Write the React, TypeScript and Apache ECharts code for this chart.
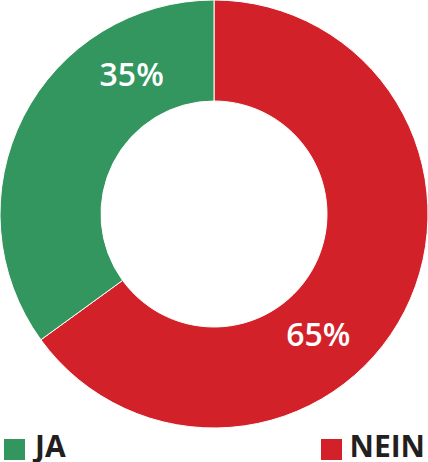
import React, { useEffect, useRef } from "react";
import * as echarts from "echarts";

const categories = ["NEIN", "JA"];
const values = [65, 35];
const colors = ["#d3212a", "#33965f"];
const labelOffsets: [number, number][] = [[-44, 44], [66, -65]];

export default function App() {
  const ref = useRef<HTMLDivElement>(null);
  useEffect(() => {
    document.body.style.margin = "0";
    const chart = echarts.init(ref.current!, null, { renderer: "svg" });
    const legendText = {
      fontFamily: "Open Sans",
      fontWeight: "bold",
      fontSize: 30,
      lineHeight: 26,
      color: "#231f20",
    };
    const iconLegend = (name: string, left: number) => ({
      data: [name],
      left,
      top: 437,
      icon: "rect",
      itemWidth: 23,
      itemHeight: 23,
      itemGap: 0,
      padding: 0,
      formatter: () => "",
      textStyle: { fontSize: 1, lineHeight: 1 },
    });
    const textLegend = (name: string, pos: { left?: number; right?: number }) => ({
      data: [name],
      ...pos,
      top: 430,
      icon: "rect",
      itemWidth: 0,
      itemHeight: 0,
      itemGap: 0,
      padding: 0,
      itemStyle: { opacity: 0 },
      textStyle: legendText,
    });
    chart.setOption({
      animation: false,
      legend: [
        iconLegend("JA", 2),
        iconLegend("NEIN", 319),
        textLegend("JA", { left: 29 }),
        textLegend("NEIN", { right: 3 }),
      ],
      series: [
        {
          type: "pie",
          center: [214, 214],
          radius: [113, 214],
          startAngle: 90,
          clockwise: true,
          itemStyle: { borderColor: "#ffffff", borderWidth: 1 },
          label: {
            show: true,
            position: "inside",
            formatter: "{c}%",
            color: "#ffffff",
            fontFamily: "Open Sans",
            fontWeight: 600,
            fontSize: 32,
          },
          labelLine: { show: false },
          emphasis: { disabled: true },
          data: categories.map((c, i) => ({
            name: c,
            value: values[i],
            itemStyle: { color: colors[i] },
            label: { offset: labelOffsets[i] },
          })),
        },
      ],
    });
    return () => chart.dispose();
  }, []);
  return <div ref={ref} style={{ width: 428, height: 462 }} />;
}
